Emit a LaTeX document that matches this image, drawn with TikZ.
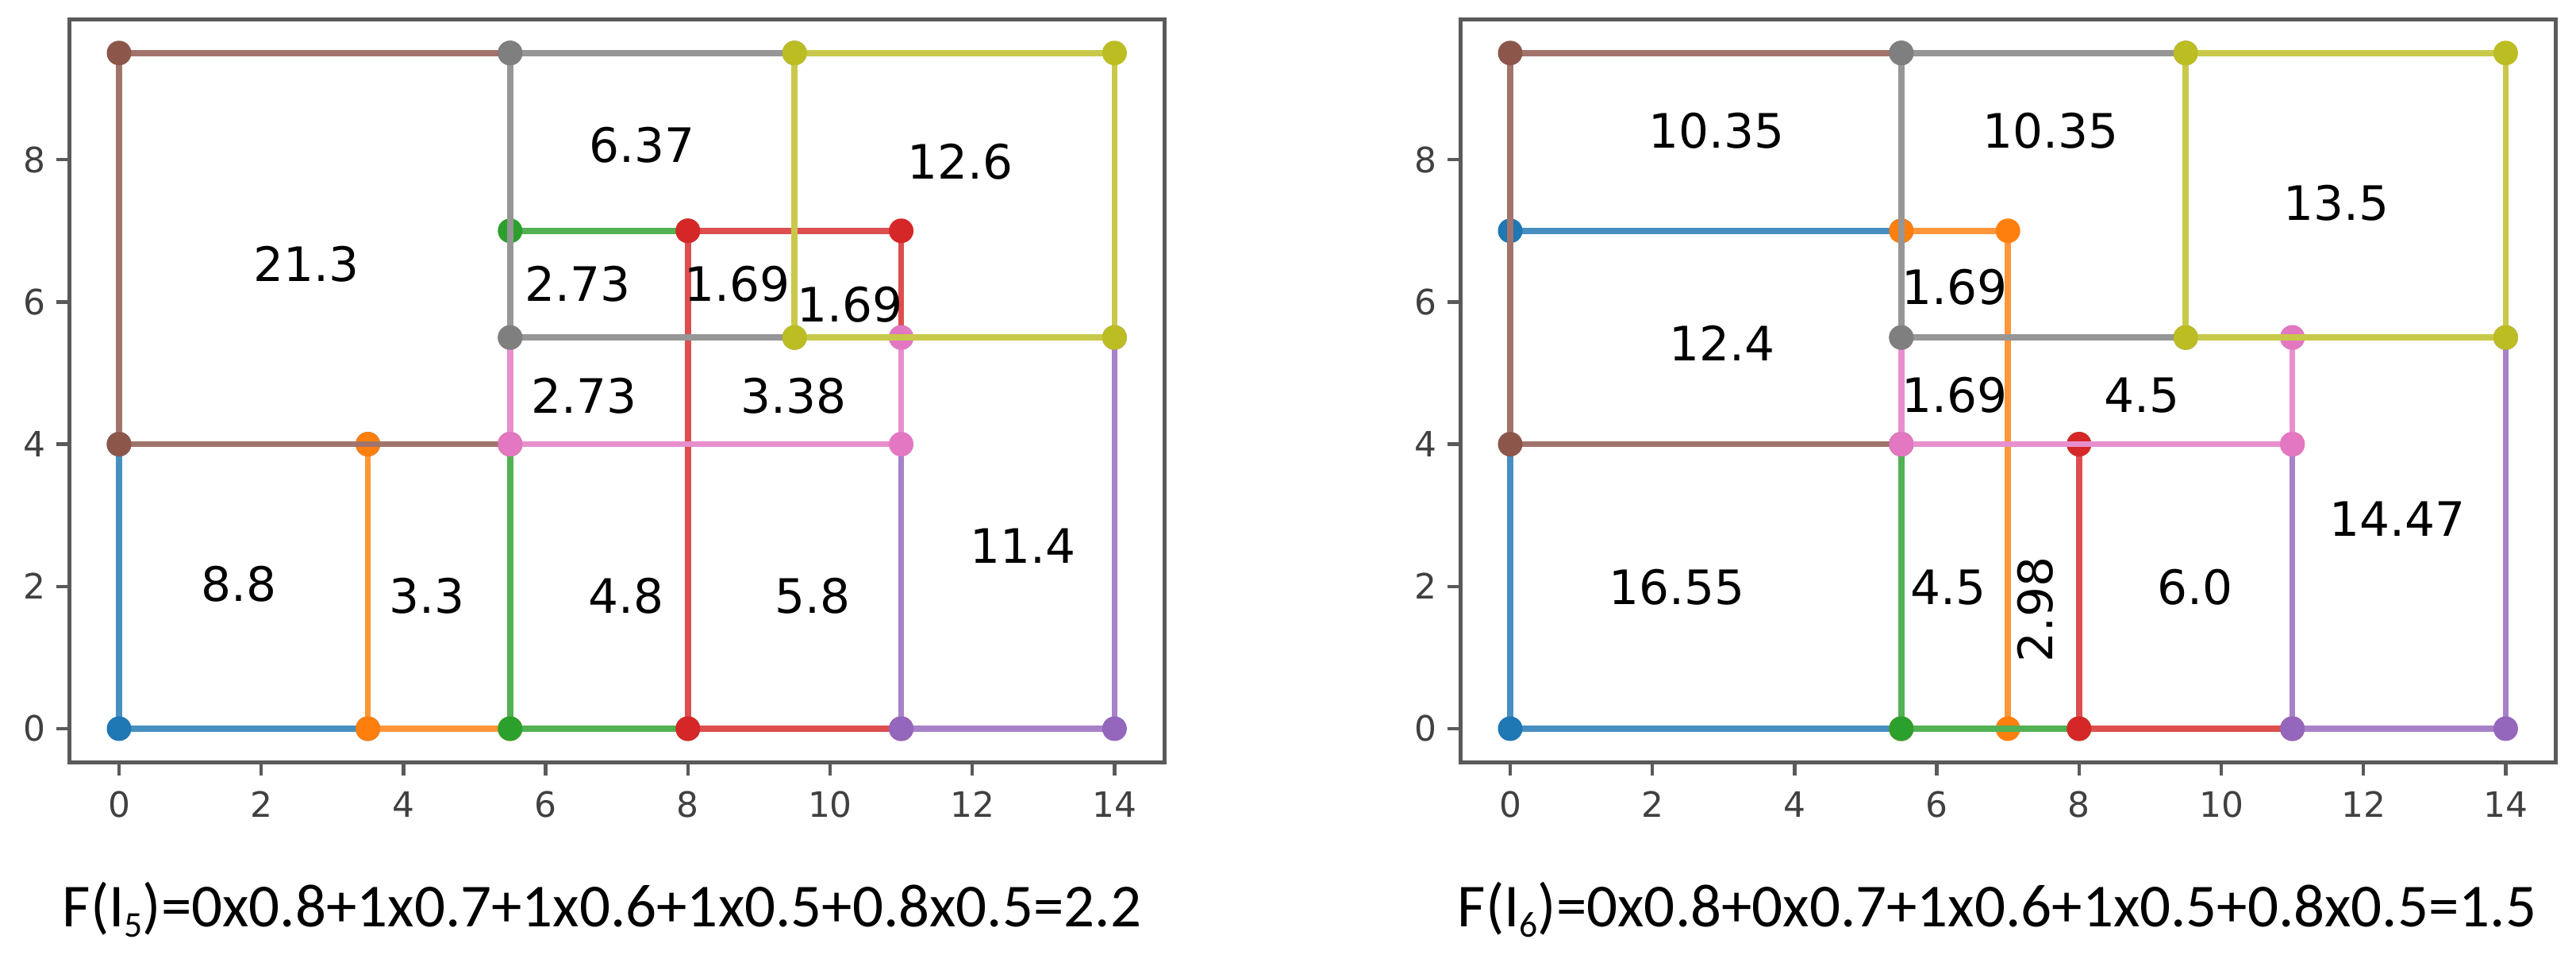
\documentclass[tikz,border=0pt]{standalone}
\usepackage{fontspec}
\setmainfont{DejaVu Sans}
\newfontfamily\formfont{Carlito}
\definecolor{cA}{HTML}{1F77B4}
\definecolor{cB}{HTML}{FF7F0E}
\definecolor{cC}{HTML}{2CA02C}
\definecolor{cD}{HTML}{D62728}
\definecolor{cE}{HTML}{9467BD}
\definecolor{cF}{HTML}{8C564B}
\definecolor{cG}{HTML}{E377C2}
\definecolor{cH}{HTML}{7F7F7F}
\definecolor{cI}{HTML}{BCBD22}
\definecolor{axc}{HTML}{5A5A5A}
\definecolor{tickc}{HTML}{404040}
\tikzset{
  rline/.style={line width=0.075cm, line join=round},
  axframe/.style={draw=axc, line width=0.05cm},
  axtick/.style={draw=axc, line width=0.045cm},
  ticklab/.style={inner sep=0pt, text=tickc, font=\fontsize{12.5}{14}\selectfont},
  vallab/.style={inner sep=0pt, text=black, font=\fontsize{17}{20}\selectfont},
  formula/.style={inner sep=0pt, anchor=base west, text=black, font=\formfont\fontsize{21.9}{26}\selectfont}
}
\newcommand{\rbox}[5]{%
  \draw[rline, draw=#1!82!white] (#2,#3) -- (#4,#3) -- (#4,#5) -- (#2,#5) -- cycle;
  \fill[#1] (#2,#3) circle[radius=0.155cm];
  \fill[#1] (#4,#3) circle[radius=0.155cm];
  \fill[#1] (#4,#5) circle[radius=0.155cm];
  \fill[#1] (#2,#5) circle[radius=0.155cm];
}
\newcommand{\axesframe}[1]{%
  \draw[axframe] (-0.7,-0.475) rectangle (14.7,9.975);
  \foreach \xx in {0,2,...,14} {
    \draw[axtick] (\xx,-0.475) -- ++(0,-0.16cm);
    \node[ticklab, anchor=base] (#1x\xx) at (\xx,-1.25) {\xx};
  }
  \foreach \yy in {0,2,...,8} {
    \draw[axtick] (-0.7,\yy) -- ++(-0.16cm,0);
    \node[ticklab, anchor=base east] (#1y\yy) at (-1.03,\yy) [yshift=-0.16cm] {\yy};
  }
}
\begin{document}
\begin{tikzpicture}
\useasboundingbox[fill=white] (0,0) rectangle (32.46,12.22);

% ---------- left plot ----------
\begin{scope}[shift={(1.50,3.04)}, x=0.896cm, y=0.896cm]
  \rbox{cA}{0}{0}{3.5}{4}
  \rbox{cB}{3.5}{0}{5.5}{4}
  \rbox{cC}{5.5}{0}{8}{7}
  \rbox{cD}{8}{0}{11}{7}
  \rbox{cE}{11}{0}{14}{5.5}
  \rbox{cF}{0}{4}{5.5}{9.5}
  \rbox{cG}{5.5}{4}{11}{5.5}
  \rbox{cH}{5.5}{5.5}{9.5}{9.5}
  \rbox{cI}{9.5}{5.5}{14}{9.5}
  \axesframe{L}
  \node[vallab] (La) at (7.36,8.21) {6.37};
  \node[vallab] (Lb) at (11.83,7.97) {12.6};
  \node[vallab] (Lc) at (2.63,6.53) {21.3};
  \node[vallab] (Ld) at (6.45,6.25) {2.73};
  \node[vallab] (Le) at (8.69,6.25) {1.69};
  \node[vallab] (Lf) at (10.28,5.96) {1.69};
  \node[vallab] (Lg) at (6.54,4.68) {2.73};
  \node[vallab] (Lh) at (9.49,4.68) {3.38};
  \node[vallab] (Li) at (1.68,2.03) {8.8};
  \node[vallab] (Lj) at (4.33,1.87) {3.3};
  \node[vallab] (Lk) at (7.13,1.87) {4.8};
  \node[vallab] (Ll) at (9.76,1.87) {5.8};
  \node[vallab] (Lm) at (12.71,2.57) {11.4};
\end{scope}

% ---------- right plot ----------
\begin{scope}[shift={(19.03,3.04)}, x=0.896cm, y=0.896cm]
  \rbox{cA}{0}{0}{5.5}{7}
  \rbox{cB}{5.5}{0}{7}{7}
  \rbox{cC}{5.5}{0}{8}{4}
  \rbox{cD}{8}{0}{11}{4}
  \rbox{cE}{11}{0}{14}{5.5}
  \rbox{cF}{0}{4}{5.5}{9.5}
  \rbox{cG}{5.5}{4}{11}{5.5}
  \rbox{cH}{5.5}{5.5}{9.5}{9.5}
  \rbox{cI}{9.5}{5.5}{14}{9.5}
  \axesframe{R}
  \node[vallab] (Ra) at (2.90,8.41) {10.35};
  \node[vallab] (Rb) at (7.60,8.41) {10.35};
  \node[vallab] (Rc) at (11.62,7.39) {13.5};
  \node[vallab] (Rd) at (6.25,6.21) {1.69};
  \node[vallab] (Re) at (2.98,5.42) {12.4};
  \node[vallab] (Rf) at (6.25,4.69) {1.69};
  \node[vallab] (Rg) at (8.88,4.69) {4.5};
  \node[vallab] (Rh) at (12.48,2.95) {14.47};
  \node[vallab] (Ri) at (2.34,1.99) {16.55};
  \node[vallab] (Rj) at (6.16,1.99) {4.5};
  \node[vallab, rotate=90] (Rk) at (7.39,1.67) {2.98};
  \node[vallab] (Rl) at (9.63,1.99) {6.0};
\end{scope}

% ---------- formulas ----------
\node[formula] (FL) at (0.78,0.54) {F(I\raisebox{-3.5pt}{\fontsize{13}{14}\selectfont 5})=0x0.8+1x0.7+1x0.6+1x0.5+0.8x0.5=2.2};
\node[formula] (FR) at (18.36,0.54) {F(I\raisebox{-3.5pt}{\fontsize{13}{14}\selectfont 6})=0x0.8+0x0.7+1x0.6+1x0.5+0.8x0.5=1.5};
\end{tikzpicture}
\end{document}
